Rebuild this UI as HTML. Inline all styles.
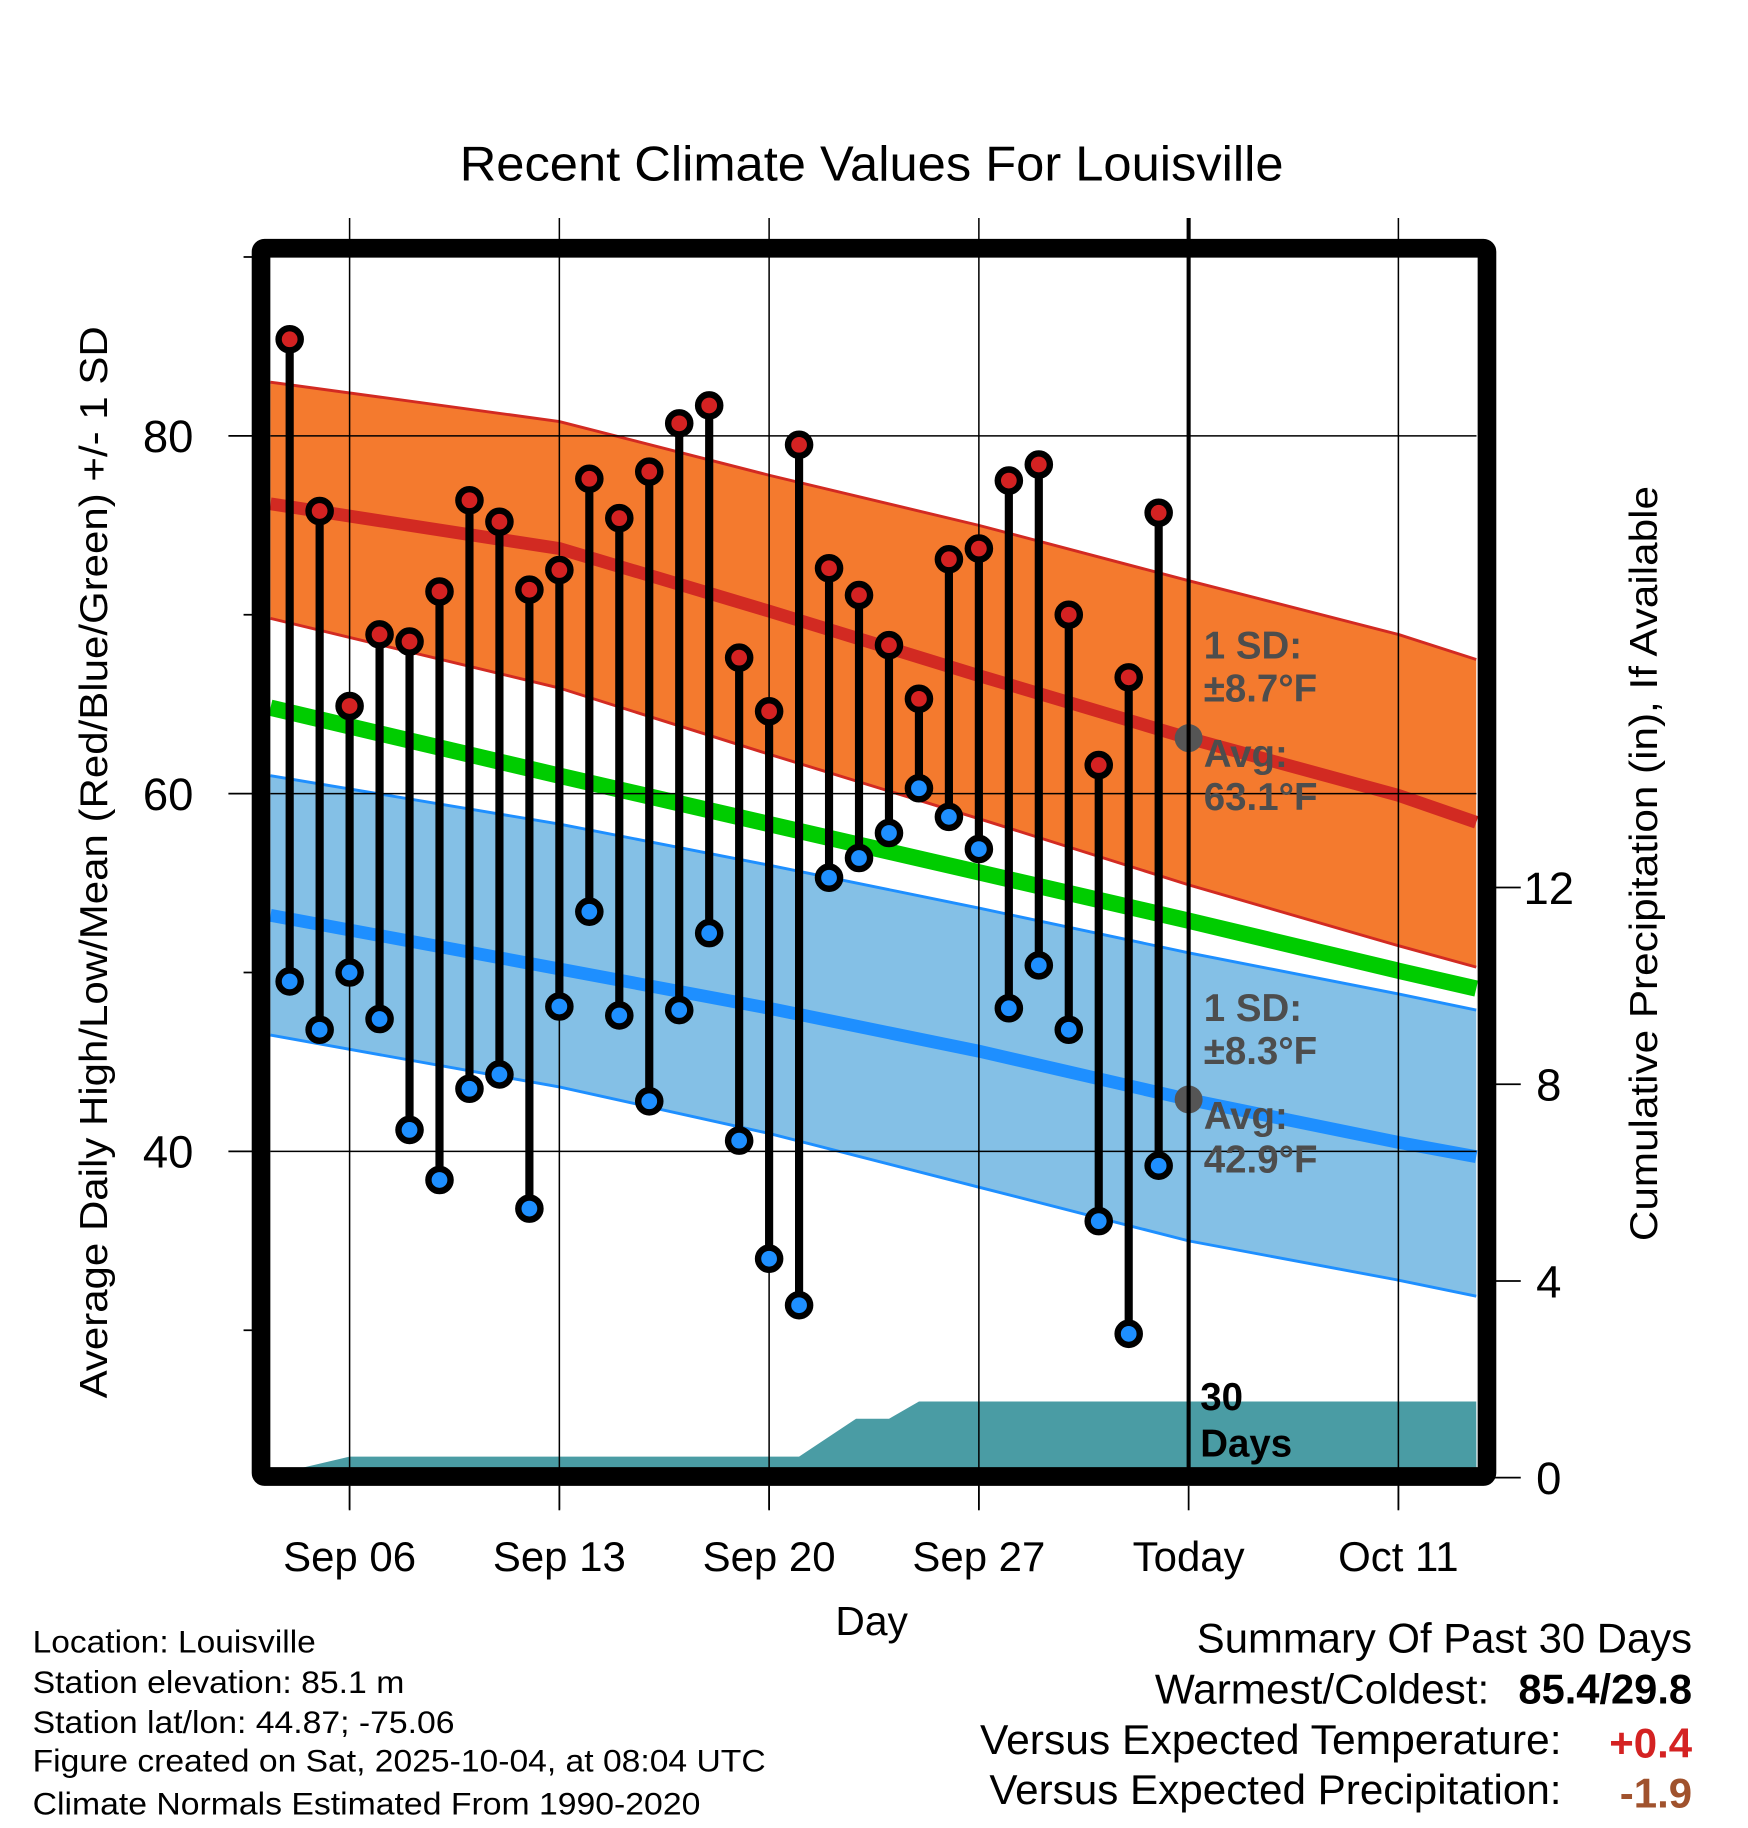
<!DOCTYPE html>
<html><head><meta charset="utf-8">
<style>
html,body{margin:0;padding:0;background:#fff;}
svg{display:block;font-family:"Liberation Sans",Arial,sans-serif;}
</style></head>
<body>
<svg id="chart" width="1748" height="1828" viewBox="0 0 1500 1568.6" xmlns="http://www.w3.org/2000/svg">
<g id="bands"></g>
<g id="grid"></g>
<g id="marks"></g>
<g id="annot"></g>
<g id="axes"></g>
</svg>
<script>
// ---- data ----
const dayLabels = ["Sep 06","Sep 13","Sep 20","Sep 27","Today","Oct 11"];
const dayLabelIdx = [2,9,16,23,30,37]; // day index from Sep 4 (0)
const highs = [85.4,75.8,64.9,68.9,68.5,71.3,76.4,75.2,71.4,72.5,77.6,75.4,78.0,80.7,81.7,67.6,64.6,79.5,72.6,71.1,68.3,65.3,73.1,73.7,77.5,78.4,70.0,61.6,66.5,75.7];
const lows  = [49.5,46.8,50.0,47.4,41.2,38.4,43.5,44.3,36.8,48.1,53.4,47.6,42.8,47.9,52.2,40.6,34.0,31.4,55.3,56.4,57.8,60.3,58.7,56.9,48.0,50.4,46.8,36.1,29.8,39.2];
const normDays   = [-0.64,9,16,23,30,37,39.6];
const normHigh   = [76.2,73.7,70.2,66.6,63.1,59.9,58.4];
const normHighUp = [83.0,80.8,77.8,75.0,71.9,68.9,67.5];
const normHighLo = [69.8,65.9,62.2,58.6,54.9,51.5,50.3];
const normMean   = [64.8,61.0,58.3,55.6,52.9,50.1,49.1];
const normLow    = [53.2,50.2,48.0,45.6,42.9,40.5,39.7];
const normLowUp  = [61.0,58.3,56.0,53.6,51.1,48.8,47.9];
const normLowLo  = [46.5,43.6,41.0,38.0,35.0,32.8,31.9];
const precipDays = [-0.64,2,17,18.9,20,21,39.6];
const precipCum  = [0.05,0.43,0.43,1.2,1.2,1.55,1.55];
const yTicksMajor = [80,60,40];
const yTicksMinor = [90,70,50,30];
const pTicks = [0,4,8,12];

// ---- axes functions ----
const X0=300, DX=25.714, XL=232, XR=1267, YT=221, YB=1260;
const x = d => X0 + (d-2)*DX;
const y = v => 374 + (80-v)*15.35;
const yp = p => 1268 - p*42.2;
const NS="http://www.w3.org/2000/svg";
function mk(parent,tag,attrs){const e=document.createElementNS(NS,tag);for(const k in attrs)e.setAttribute(k,attrs[k]);document.getElementById(parent).appendChild(e);return e;}
const clipX = d => Math.max(XL,Math.min(XR,x(d)));
const ptsC=(ds,vs,f)=>ds.map((d,i)=>clipX(d).toFixed(1)+","+f(vs[i]).toFixed(1));

let e;
e=mk('bands','polygon',{points:ptsC(normDays,normHighUp,y).concat(ptsC(normDays,normHighLo,y).reverse()).join(" "),fill:"#f47a2e"});

e=mk('bands','polyline',{points:ptsC(normDays,normHighUp,y).join(" "),fill:"none",stroke:"#d22a22","stroke-width":2.5});

e=mk('bands','polyline',{points:ptsC(normDays,normHighLo,y).join(" "),fill:"none",stroke:"#d22a22","stroke-width":2.5});

e=mk('bands','polygon',{points:ptsC(normDays,normLowUp,y).concat(ptsC(normDays,normLowLo,y).reverse()).join(" "),fill:"#84c0e6"});

e=mk('bands','polyline',{points:ptsC(normDays,normLowUp,y).join(" "),fill:"none",stroke:"#1e8fff","stroke-width":2.5});

e=mk('bands','polyline',{points:ptsC(normDays,normLowLo,y).join(" "),fill:"none",stroke:"#1e8fff","stroke-width":2.5});

e=mk('bands','polyline',{points:ptsC(normDays,normHigh,y).join(" "),fill:"none",stroke:"#d22a22","stroke-width":11});

e=mk('bands','polyline',{points:ptsC(normDays,normLow,y).join(" "),fill:"none",stroke:"#1e8fff","stroke-width":11});

e=mk('bands','polyline',{points:ptsC(normDays,normMean,y).join(" "),fill:"none",stroke:"#00cc00","stroke-width":14});

e=mk('bands','polygon',{points:ptsC(precipDays,precipCum,yp).concat([XR+","+YB,XL+","+YB]).join(" "),fill:"#4a9ca4"});


yTicksMajor.forEach(v=>{
  e=mk('grid','line',{x1:XL,x2:XR,y1:y(v),y2:y(v),stroke:"#000","stroke-width":1.3});
  
});
dayLabelIdx.forEach((d,i)=>{
  if(dayLabels[i]==="Today") return;
  e=mk('grid','line',{x1:x(d),x2:x(d),y1:187,y2:1295,stroke:"#000","stroke-width":1.3});
  
});

highs.forEach((h,i)=>{
  const cx=x(i);
  e=mk('marks','line',{x1:cx,x2:cx,y1:y(h),y2:y(lows[i]),stroke:"#000","stroke-width":7});
  
  e=mk('marks','circle',{cx:cx,cy:y(h),r:9.5,fill:"#d42222",stroke:"#000","stroke-width":5.5});
  
  e=mk('marks','circle',{cx:cx,cy:y(lows[i]),r:9.5,fill:"#1e8fff",stroke:"#000","stroke-width":5.5});
  
});
e=mk('marks','circle',{cx:x(30),cy:y(normHigh[4]),r:12,fill:"#555"});

e=mk('marks','circle',{cx:x(30),cy:y(normLow[4]),r:12,fill:"#555"});

e=mk('marks','line',{x1:x(30),x2:x(30),y1:187,y2:YB,stroke:"#000","stroke-width":3.5});


function txt(parent,s,xx,yy,attrs,name){const t=mk(parent,'text',Object.assign({x:xx,y:yy},attrs));t.textContent=s;return t;}
const ga={"font-size":33,"font-weight":"bold",fill:"#4d4d4d"};
txt('annot',"1 SD:",1033,565,ga,'high-sd-label');
txt('annot',"±8.7°F",1033,602,ga,'high-sd-value');
txt('annot',"Avg:",1033,658,ga,'high-avg-label');
txt('annot',"63.1°F",1033,695,ga,'high-avg-value');
txt('annot',"1 SD:",1033,876,ga,'low-sd-label');
txt('annot',"±8.3°F",1033,913,ga,'low-sd-value');
txt('annot',"Avg:",1033,969,ga,'low-avg-label');
txt('annot',"42.9°F",1033,1006,ga,'low-avg-value');
const ba={"font-size":33,"font-weight":"bold",fill:"#000"};
txt('annot',"30",1030,1210,ba,'days-count-label');
txt('annot',"Days",1030,1250,ba,'days-label');

e=mk('axes','rect',{x:224,y:213,width:1052,height:1054,fill:"none",stroke:"#000","stroke-width":16,rx:3});

yTicksMajor.forEach(v=>{
  e=mk('axes','line',{x1:196,x2:218,y1:y(v),y2:y(v),stroke:"#000","stroke-width":1.5});
  
  txt('axes',String(v),166,y(v)+14,{"font-size":39,"text-anchor":"end"},'y-tick-label');
});
yTicksMinor.forEach(v=>{
  e=mk('axes','line',{x1:209,x2:218,y1:y(v),y2:y(v),stroke:"#000","stroke-width":1.5});
  
});
pTicks.forEach(p=>{
  e=mk('axes','line',{x1:1282,x2:1305,y1:yp(p),y2:yp(p),stroke:"#000","stroke-width":1.5});
  
  txt('axes',String(p),1329,yp(p)+14,{"font-size":39,"text-anchor":"middle"},'precip-tick-label');
});
dayLabelIdx.forEach((d,i)=>{
  e=mk('axes','line',{x1:x(d),x2:x(d),y1:1275,y2:1296,stroke:"#000","stroke-width":1.5});
  
  txt('axes',dayLabels[i],x(d),1348,{"font-size":36,"text-anchor":"middle"},'x-tick-label');
});
txt('axes',"Day",748,1403,{"font-size":35,"text-anchor":"middle"},'x-axis-title');
txt('axes',"Recent Climate Values For Louisville",748,155,{"font-size":42,"text-anchor":"middle",textLength:707,lengthAdjust:"spacingAndGlyphs"},'chart-title');
txt('axes',"Average Daily High/Low/Mean (Red/Blue/Green) +/- 1 SD",0,0,{"font-size":33,"text-anchor":"middle",transform:"translate(92,740) rotate(-90)",textLength:920,lengthAdjust:"spacingAndGlyphs"},'y-axis-title');
txt('axes',"Cumulative Precipitation (in), If Available",0,0,{"font-size":33,"text-anchor":"middle",transform:"translate(1422,741) rotate(-90)",textLength:648,lengthAdjust:"spacingAndGlyphs"},'precip-axis-title');

const info=[["Location: Louisville",1418,243],["Station elevation: 85.1 m",1453,319],["Station lat/lon: 44.87; -75.06",1487,362],["Figure created on Sat, 2025-10-04, at 08:04 UTC",1520,629],["Climate Normals Estimated From 1990-2020",1557,573]];
info.forEach(r=>txt('axes',r[0],28,r[1],{"font-size":27,textLength:r[2],lengthAdjust:"spacingAndGlyphs"},'station-info-line'));
txt('axes',"Summary Of Past 30 Days",1027,1418,{"font-size":36,textLength:425,lengthAdjust:"spacingAndGlyphs"},'summary-title');
txt('axes',"Warmest/Coldest:",991,1462,{"font-size":36,textLength:287,lengthAdjust:"spacingAndGlyphs"},'warmest-coldest-label');
txt('axes',"85.4/29.8",1303,1462,{"font-size":36,"font-weight":"bold",textLength:149,lengthAdjust:"spacingAndGlyphs"},'warmest-coldest-value');
txt('axes',"Versus Expected Temperature:",841,1505,{"font-size":36,textLength:499,lengthAdjust:"spacingAndGlyphs"},'temp-anomaly-label');
txt('axes',"+0.4",1452,1508,{"font-size":36,"text-anchor":"end","font-weight":"bold",fill:"#d42222"},'temp-anomaly-value');
txt('axes',"Versus Expected Precipitation:",849,1548,{"font-size":36,textLength:491,lengthAdjust:"spacingAndGlyphs"},'precip-anomaly-label');
txt('axes',"-1.9",1452,1551,{"font-size":36,"text-anchor":"end","font-weight":"bold",fill:"#a0522d"},'precip-anomaly-value');
</script>
</body></html>
